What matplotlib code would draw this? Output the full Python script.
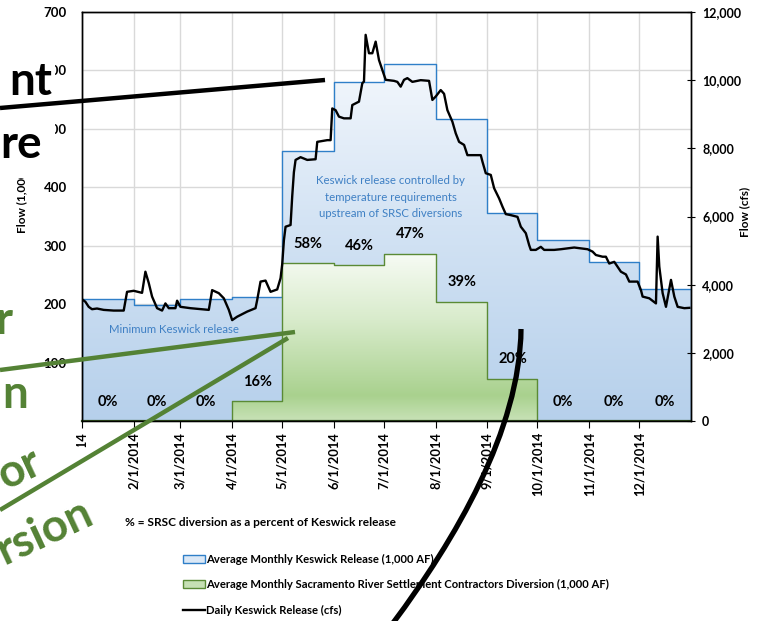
import datetime as dt
import numpy as np
import matplotlib
matplotlib.use('Agg')
import matplotlib.pyplot as plt
import matplotlib.dates as mdates
from matplotlib.colors import LinearSegmentedColormap
from matplotlib.patches import Rectangle, Polygon, PathPatch
from matplotlib.path import Path
from matplotlib.lines import Line2D
from matplotlib.ticker import FuncFormatter, MultipleLocator

plt.rcParams['font.family'] = ['Lato', 'DejaVu Sans']

# ---------------- data ----------------
month_labels = ['1/1/2014', '2/1/2014', '3/1/2014', '4/1/2014', '5/1/2014', '6/1/2014',
                '7/1/2014', '8/1/2014', '9/1/2014', '10/1/2014', '11/1/2014', '12/1/2014']
keswick_taf = [209, 198, 209, 212, 462, 581, 611, 517, 356, 310, 272, 226]
srsc_taf = [0, 0, 0, 34, 270, 267, 286, 204, 72, 0, 0, 0]
pct_labels = ['0%', '0%', '0%', '16%', '58%', '46%', '47%', '39%', '20%', '0%', '0%', '0%']

daily_doy = [0, 2, 4, 6, 9, 13, 19, 25, 27, 31,
             36, 38, 40, 42, 45, 48, 50, 52, 56, 57,
             59, 65, 76, 78, 82, 85, 88, 90, 93, 99,
             104, 105, 107, 110, 113, 117, 119, 120, 121, 122,
             125, 126, 127, 128, 131, 135, 140, 141, 147, 149,
             150, 152, 154, 157, 161, 162, 166, 168, 169, 170,
             172, 174, 176, 178, 180, 182, 187, 189, 191, 193,
             195, 198, 203, 208, 210, 212, 215, 217, 219, 222,
             224, 226, 229, 231, 235, 239, 240, 242, 245, 247,
             250, 252, 254, 257, 261, 263, 266, 268, 269, 272,
             275, 277, 283, 287, 295, 303, 306, 308, 312, 314,
             316, 319, 323, 326, 328, 333, 335, 336, 340, 344,
             345, 346, 348, 350, 353, 355, 357, 361, 364]
daily_cfs = [3570, 3500, 3350, 3280, 3300, 3260, 3240, 3240, 3790, 3820,
             3760, 4380, 4050, 3650, 3310, 3240, 3450, 3310, 3310, 3530,
             3350, 3310, 3260, 3840, 3750, 3600, 3260, 2960, 3060, 3210,
             3310, 3550, 4090, 4120, 3790, 3860, 4190, 4600, 5300, 5700,
             5750, 6600, 7300, 7660, 7740, 7660, 7680, 8190, 8240, 8240,
             9170, 9120, 8930, 8880, 8880, 9270, 9370, 9910, 9960, 11330,
             10790, 10790, 11130, 10590, 10300, 10010, 9980, 9950, 9810, 10010,
             10060, 9950, 10000, 9980, 9420, 9520, 9710, 9600, 9120, 8780,
             8440, 8190, 8100, 7800, 7800, 7800, 7610, 7270, 7220, 6830,
             6530, 6290, 6070, 6040, 5990, 5700, 5510, 5160, 5020, 5020,
             5110, 5020, 5020, 5040, 5090, 5040, 4970, 4870, 4820, 4820,
             4620, 4670, 4380, 4300, 4090, 4090, 3840, 3650, 3600, 3450,
             5410, 4530, 3750, 3350, 4140, 3650, 3350, 3310, 3320]

# ---------------- figure ----------------
W, H = 759, 621
fig = plt.figure(figsize=(W / 100, H / 100), dpi=100)
ax = fig.add_axes([82 / W, 1 - 421 / H, (691 - 82) / W, (421 - 12) / H])
ax2 = ax.twinx()

base = dt.date(2014, 1, 1)
month_starts = [dt.date(2014, m, 1) for m in range(1, 13)]
edges = mdates.date2num(month_starts + [dt.date(2015, 1, 1)])
mids = (edges[:-1] + edges[1:]) / 2
kes_ext = list(keswick_taf) + [keswick_taf[-1]]
srsc_ext = list(srsc_taf) + [srsc_taf[-1]]


def grad_fill(x, y, colors, stops, vmax, z, edge):
    poly = ax.fill_between(x, 0, y, step='post', facecolor='none', edgecolor='none')
    cmap = LinearSegmentedColormap.from_list('g', list(zip(stops, colors)))
    grad = np.linspace(0, 1, 256).reshape(-1, 1)
    im = ax.imshow(grad, cmap=cmap, aspect='auto', origin='lower',
                   extent=[x[0], x[-1], 0, vmax], zorder=z, interpolation='bilinear')
    im.set_clip_path(poly.get_paths()[0], ax.transData)
    ax.fill_between(x, 0, y, step='post', facecolor='none', edgecolor=edge,
                    linewidth=1.0, zorder=z + 0.1)


grad_fill(edges, kes_ext, ['#b6d0eb', '#d3e3f4', '#f3f7fc'], [0, 0.55, 1], 611, 1, '#2f7fc8')
grad_fill(edges, srsc_ext, ['#c8e2b7', '#a9d18e', '#d8ebcb', '#f7fbf4'], [0, 0.15, 0.6, 1], 286, 2, '#5a8a35')

ax.set_xlim(edges[0], edges[-1])
ax.set_ylim(0, 700)
ax2.set_ylim(0, 12000)

# daily line
daily_x = mdates.date2num([base + dt.timedelta(days=d) for d in daily_doy])
ax2.plot(daily_x, daily_cfs, color='black', linewidth=1.7, zorder=5)

# grid
ax.set_axisbelow(True)
ax.yaxis.set_major_locator(MultipleLocator(100))
ax.set_xticks(edges[:-1])
ax.set_xticklabels(month_labels, rotation=90, fontsize=9.3, fontweight='bold')
ax.grid(True, color='#d9d9d9', linewidth=1.0, zorder=0.5)
ax.tick_params(axis='x', direction='out', length=5, pad=3, color='black')
ax.tick_params(axis='y', length=0, pad=11, labelsize=9.5)
for t in ax.get_yticklabels():
    t.set_fontweight('bold')

ax2.yaxis.set_major_locator(MultipleLocator(2000))
ax2.yaxis.set_major_formatter(FuncFormatter(lambda v, p: f'{int(v):,}'))
ax2.tick_params(axis='y', direction='inout', length=6, pad=5, labelsize=9)
for t in ax2.get_yticklabels():
    t.set_fontweight('bold')

for a in (ax, ax2):
    for s in a.spines.values():
        s.set_color('black')
        s.set_linewidth(1.0)
ax.spines['bottom'].set_color('#2d4a1c')
ax.spines['bottom'].set_linewidth(1.6)

# percent labels
for m, v, lab in zip(mids, srsc_taf, pct_labels):
    ax.annotate(lab, (m, v), xytext=(0, 14), textcoords='offset points',
                ha='center', va='center', fontsize=10.5, fontweight='bold', zorder=6)

blue_txt = '#3f80c4'
ax.text(mdates.date2num(dt.date(2014, 7, 5)), 383,
        'Keswick release controlled by\ntemperature requirements\nupstream of SRSC diversions',
        ha='center', va='center', multialignment='center', fontsize=8.2, color=blue_txt,
        linespacing=1.6, zorder=6)
ax.text(mdates.date2num(dt.date(2014, 2, 25)), 156, 'Minimum Keswick release',
        ha='center', va='center', fontsize=8.2, color=blue_txt, zorder=6)

# axis titles
fig.text(22 / W, 1 - 233 / H, 'Flow (1,000 AF)', rotation=90, ha='center', va='bottom',
         fontsize=8.5, fontweight='bold')
fig.text(745 / W, 1 - 212 / H, 'Flow (cfs)', rotation=90, ha='center', va='center',
         fontsize=8.5, fontweight='bold')

fig.text(125 / W, 1 - 522 / H, '% = SRSC diversion as a percent of Keswick release',
         ha='left', va='center', fontsize=8.6, fontweight='bold')

# legend
handles = [Rectangle((0, 0), 1, 1, facecolor='#dbe8f6', edgecolor='#2f7fc8', linewidth=1),
           Rectangle((0, 0), 1, 1, facecolor='#c6e0b4', edgecolor='#5a8a35', linewidth=1),
           Line2D([0], [0], color='black', linewidth=1.7)]
labels = ['Average Monthly Keswick Release (1,000 AF)',
          'Average Monthly Sacramento River Settlement Contractors Diversion (1,000 AF)',
          'Daily Keswick Release (cfs)']
fig.legend(handles, labels, loc='upper left', bbox_to_anchor=(177 / W, 1 - 548 / H),
           frameon=False, prop={'size': 8.1, 'weight': 'bold'}, handlelength=1.95,
           handleheight=0.7, handletextpad=0.1, labelspacing=1.3, borderpad=0)


# ---------------- slide overlay ----------------
def P(x, y):
    return (x / W, 1 - y / H)


ov = fig.transFigure
fig.patches.append(Polygon([P(0, 25), P(55, 25), P(55, 178), P(0, 178)], closed=True,
                           facecolor='white', edgecolor='none', transform=ov, zorder=10))
fig.patches.append(Polygon([P(0, 414), P(72, 414), P(75, 446), P(92, 448), P(100, 621), P(0, 621)],
                           closed=True, facecolor='white', edgecolor='none', transform=ov, zorder=10))

fig.text(*P(52, 95), 'nt', ha='right', va='baseline', fontsize=33, fontweight='bold',
         color='black', zorder=11)
fig.text(*P(42, 158), 're', ha='right', va='baseline', fontsize=33, fontweight='bold',
         color='black', zorder=11)
green = '#548235'
fig.text(*P(12, 334), 'r', ha='right', va='baseline', fontsize=33, fontweight='bold',
         color=green, zorder=11)
fig.text(*P(28, 408), 'n', ha='right', va='baseline', fontsize=33, fontweight='bold',
         color=green, zorder=11)
fig.text(*P(45, 472), 'or', ha='right', va='baseline', fontsize=33, fontweight='bold',
         color=green, zorder=11, rotation=25, rotation_mode='anchor')
fig.text(*P(96, 522), 'rsion', ha='right', va='baseline', fontsize=33, fontweight='bold',
         color=green, zorder=11, rotation=25, rotation_mode='anchor')

for (x0, y0), (x1, y1), c, lw in [((0, 108), (325, 80), 'black', 3.2),
                                  ((0, 370), (295, 332), green, 3.2),
                                  ((0, 510), (288, 338), green, 3.2)]:
    fig.add_artist(Line2D([x0 / W, x1 / W], [1 - y0 / H, 1 - y1 / H], color=c, linewidth=lw,
                          transform=ov, zorder=12, solid_capstyle='butt'))

arc = Path([P(521, 329), P(520, 430), P(455, 540), P(393, 623)],
           [Path.MOVETO, Path.CURVE4, Path.CURVE4, Path.CURVE4])
fig.patches.append(PathPatch(arc, facecolor='none', edgecolor='black', linewidth=3.8,
                             transform=ov, zorder=12))

fig.savefig('out.png', dpi=100)
